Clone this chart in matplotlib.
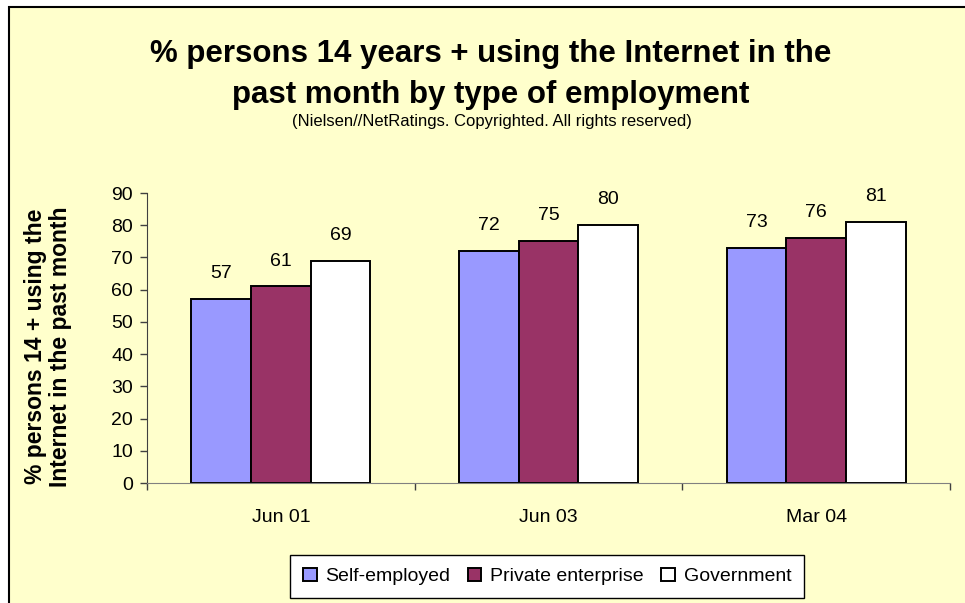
import numpy as np
import matplotlib.pyplot as plt
from matplotlib.patches import Rectangle

plt.rcParams['font.family'] = ['Liberation Sans', 'DejaVu Sans']

periods = ['Jun 01', 'Jun 03', 'Mar 04']
self_employed = [57, 72, 73]
private_enterprise = [61, 75, 76]
government = [69, 80, 81]
series_names = ['Self-employed', 'Private enterprise', 'Government']
colors = ['#9999FF', '#993366', '#FFFFFF']

fig = plt.figure(figsize=(9.65, 6.03), dpi=100)
fig.patch.set_facecolor('white')

# pale yellow chart area with a dark frame
fig.patches.append(Rectangle((9 / 965, -0.1), 1.0, 1.1 - 7 / 603,
                             transform=fig.transFigure, facecolor='#FFFFCC',
                             edgecolor='black', linewidth=1.5, zorder=-10))

ax = fig.add_axes([147 / 965, 120 / 603, 803 / 965, 290 / 603])
ax.set_facecolor('none')

x = np.arange(len(periods))
width = 0.223
for i, (vals, name, col) in enumerate(zip([self_employed, private_enterprise, government],
                                           series_names, colors)):
    bars = ax.bar(x + (i - 1) * width, vals, width, color=col, edgecolor='black',
                  linewidth=1.4, label=name)
    for b, v in zip(bars, vals):
        ax.annotate(str(v), (b.get_x() + b.get_width() / 2, v), xytext=(0, 15),
                    textcoords='offset points', ha='center', va='baseline', fontsize=14)

ax.set_xlim(-0.5, 2.5)
ax.set_ylim(0, 90)
ax.set_yticks(range(0, 91, 10))
ax.tick_params(axis='y', labelsize=14, length=5, width=1, color='#404040', pad=5)

ax.set_xticks(x)
ax.set_xticklabels(periods)
ax.tick_params(axis='x', which='major', length=0, labelsize=14, pad=19)
ax.set_xticks([-0.5, 0.5, 1.5, 2.5], minor=True)
ax.tick_params(axis='x', which='minor', length=5, width=1, color='#404040')

for s in ['top', 'right']:
    ax.spines[s].set_visible(False)
ax.spines['left'].set_color('#404040')
ax.spines['bottom'].set_color('#808080')

ax.set_ylabel('% persons 14 + using the\nInternet in the past month',
              fontsize=16.5, fontweight='bold', linespacing=1.1)
ax.yaxis.set_label_coords(-0.094, 0.47)

fig.text(0.508, 1 - 62 / 603, '% persons 14 years + using the Internet in the',
         ha='center', va='baseline', fontsize=22.5, fontweight='bold')
fig.text(0.508, 1 - 103 / 603, 'past month by type of employment',
         ha='center', va='baseline', fontsize=22.5, fontweight='bold')
fig.text(0.51, 1 - 126 / 603, '(Nielsen//NetRatings. Copyrighted. All rights reserved)',
         ha='center', va='baseline', fontsize=12)

leg = fig.legend(loc='center', bbox_to_anchor=(0.567, 0.044), ncol=3, fontsize=14,
                 frameon=True, fancybox=False, edgecolor='black', facecolor='white',
                 framealpha=1, handlelength=0.7, handleheight=0.7, handletextpad=0.45,
                 columnspacing=0.9, borderpad=0.65, borderaxespad=0)
leg.get_frame().set_linewidth(1)

fig.savefig('out.png', dpi=100)
